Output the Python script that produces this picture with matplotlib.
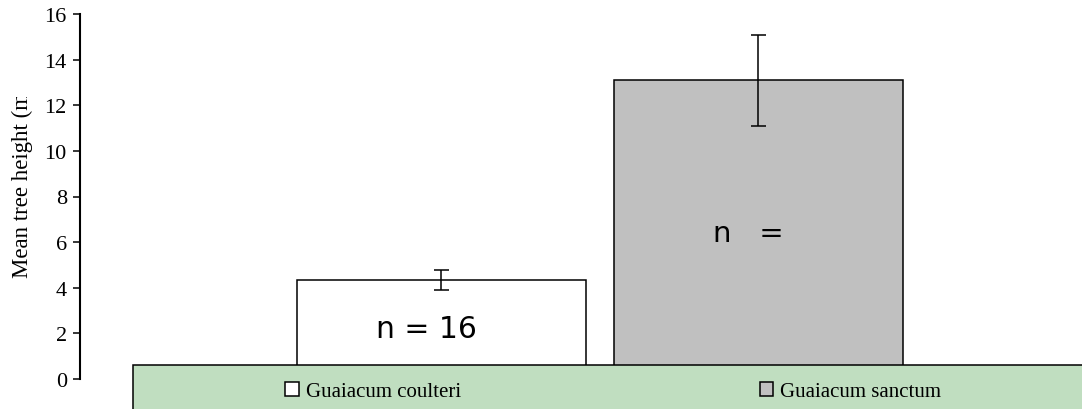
import matplotlib
matplotlib.use("Agg")
from matplotlib import pyplot as plt
from matplotlib.patches import Rectangle
from matplotlib.transforms import Bbox, TransformedBbox

# Mean tree height per species, with error bars
species = ["Guaiacum coulteri", "Guaiacum sanctum"]
mean_height = [4.35, 13.1]
height_err = [0.45, 2.0]
n_labels = ["n = 16", "n   ="]
bar_colors = ["white", "#c0c0c0"]
y_ticks = [0, 2, 4, 6, 8, 10, 12, 14, 16]

W, H = 1082, 410
plt.rcParams["font.family"] = ["Liberation Serif", "DejaVu Serif"]

fig = plt.figure(figsize=(W / 100, H / 100), dpi=100)
ax = fig.add_axes([80 / W, 1 - 380 / H, (W - 80) / W, 365 / H])

x = list(range(len(species)))
bars = ax.bar(x, mean_height, width=0.912, color=bar_colors,
              edgecolor="black", linewidth=1.1, zorder=2)
ax.errorbar(x, mean_height, yerr=height_err, fmt="none", ecolor="black",
            elinewidth=1.1, capsize=5.4, capthick=1.1, zorder=3)

# sample size labels inside the bars
ax.text(x[0] - 0.205, 1.84, n_labels[0], family="DejaVu Sans", fontsize=21.5,
        ha="left", va="baseline", zorder=4)
ax.text(x[1] - 0.144, 6.05, n_labels[1], family="DejaVu Sans", fontsize=21,
        ha="left", va="baseline", zorder=4)

ax.set_xlim(-1.14, 2.021)
ax.set_ylim(0, 16)
ax.set_yticks(y_ticks)
ax.set_xticks([])
for side in ["top", "right", "bottom"]:
    ax.spines[side].set_visible(False)
ax.spines["left"].set_linewidth(1.5)
ax.tick_params(axis="y", direction="out", length=5.2, width=1.1, pad=4.3,
               labelsize=16)

ylab = ax.set_ylabel("Mean tree height (m)", fontsize=16.5, ha="left")
ax.yaxis.set_label_coords(33 / W, 1 - 278 / H, transform=fig.transFigure)
ylab.set_clip_box(TransformedBbox(Bbox([[0, 0], [1, 1 - 98 / H]]), fig.transFigure))
ylab.set_clip_on(True)

# green legend strip along the bottom
fig.add_artist(Rectangle((133 / W, -0.1), 1.0, (H - 366) / H + 0.1,
                         transform=fig.transFigure, facecolor="#c0dec0",
                         edgecolor="black", linewidth=1.1, zorder=1, clip_on=False))
fig.legend(bars.patches, species, loc="upper left",
           bbox_to_anchor=(285 / W, 1 - 383 / H), ncol=2, frameon=False,
           borderpad=0, borderaxespad=0, handletextpad=0.34, columnspacing=14.35,
           handlelength=0.65, handleheight=0.65, fontsize=15)

fig.savefig("out.png", dpi=100)
